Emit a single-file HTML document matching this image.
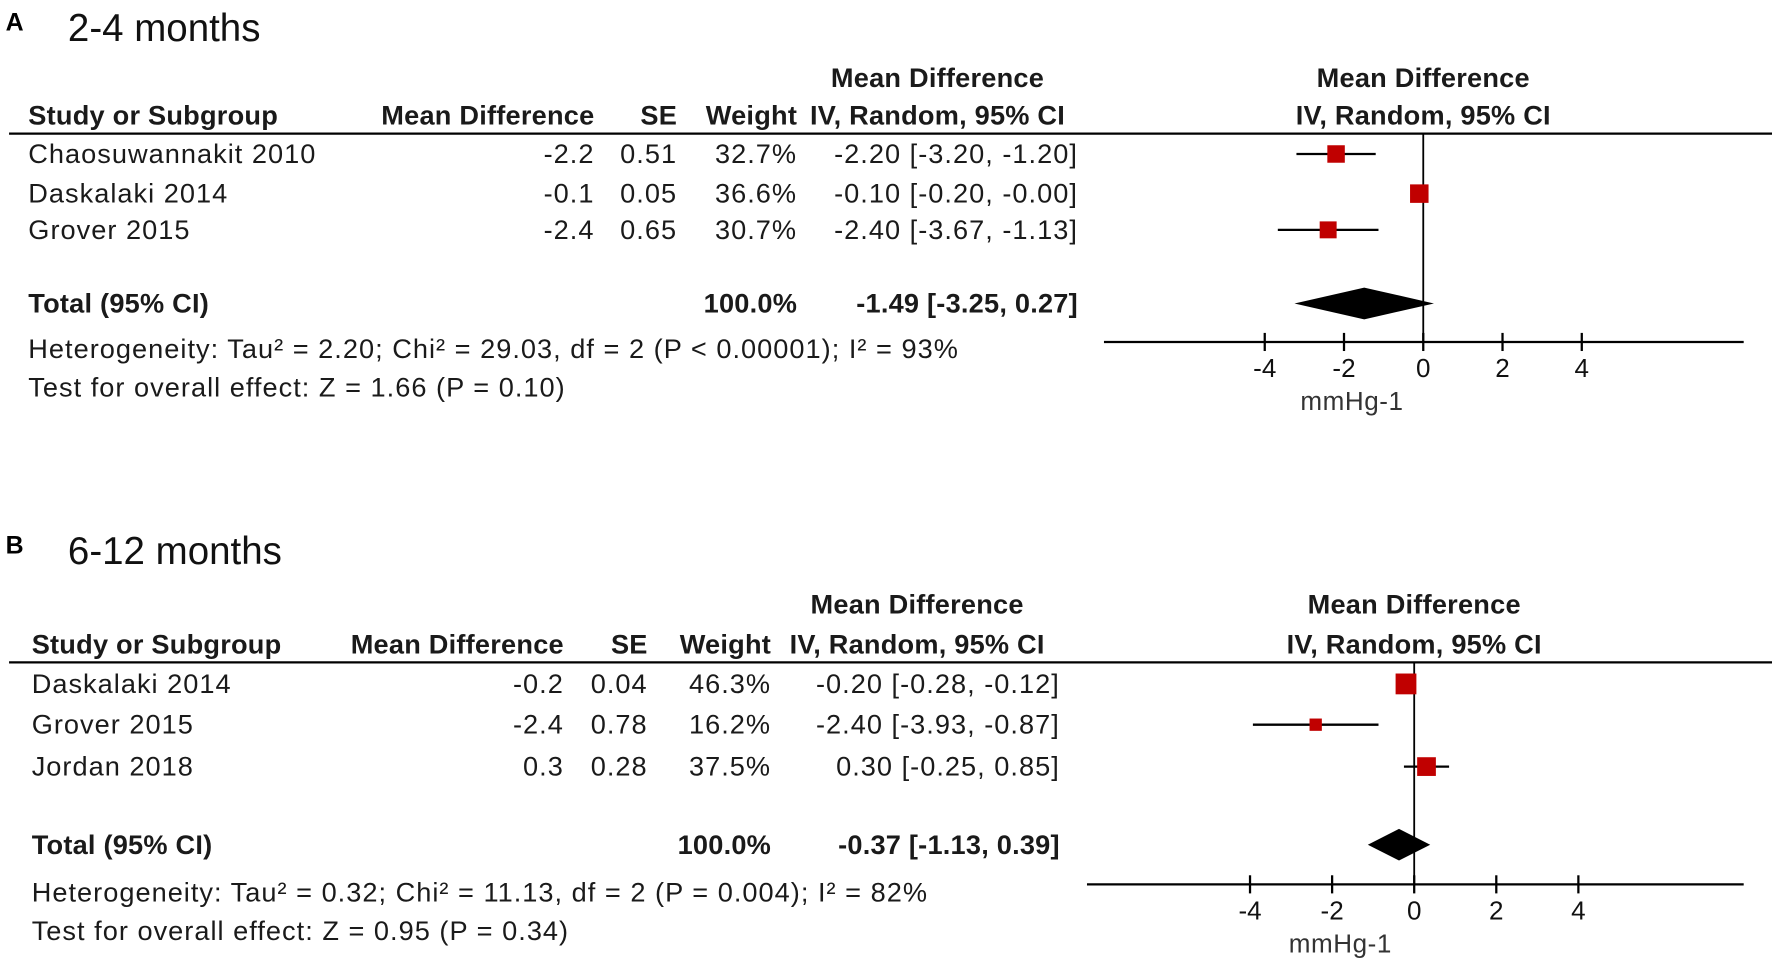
<!DOCTYPE html>
<html><head><meta charset="utf-8"><style>
html,body{margin:0;padding:0;background:#fff;}
svg{display:block;font-family:"Liberation Sans",Arial,sans-serif;}
</style></head><body>
<svg id="fig" width="1772" height="967" viewBox="0 0 1565 854" preserveAspectRatio="none" xmlns="http://www.w3.org/2000/svg"></svg>
<script>
// Panel A data
const studiesA = ["Chaosuwannakit 2010","Daskalaki 2014","Grover 2015"];
const mdA = [-2.2,-0.1,-2.4];
const seA = ["0.51","0.05","0.65"];
const weightA = [32.7,36.6,30.7];
const lowA = [-3.20,-0.20,-3.67];
const highA = [-1.20,-0.00,-1.13];
const totalA = [-1.49,-3.25,0.27];
const hetA = "Heterogeneity: Tau² = 2.20; Chi² = 29.03, df = 2 (P < 0.00001); I² = 93%";
const testA = "Test for overall effect: Z = 1.66 (P = 0.10)";
// Panel B data
const studiesB = ["Daskalaki 2014","Grover 2015","Jordan 2018"];
const mdB = [-0.2,-2.4,0.3];
const seB = ["0.04","0.78","0.28"];
const weightB = [46.3,16.2,37.5];
const lowB = [-0.28,-3.93,-0.25];
const highB = [-0.12,-0.87,0.85];
const totalB = [-0.37,-1.13,0.39];
const hetB = "Heterogeneity: Tau² = 0.32; Chi² = 11.13, df = 2 (P = 0.004); I² = 82%";
const testB = "Test for overall effect: Z = 0.95 (P = 0.34)";
const ticks = [-4,-2,0,2,4];

const svg = document.getElementById('fig');
const NS = "http://www.w3.org/2000/svg";
function mk(tag, attrs, name, txt){
  const e = document.createElementNS(NS, tag);
  for (const k in attrs) e.setAttribute(k, attrs[k]);
  
  
  if (txt !== undefined) e.textContent = txt;
  svg.appendChild(e);
  return e;
}
function txt(x,y,s,name,anchor,bold,size,fill,ls){
  return mk('text',{x:x,y:y,'text-anchor':anchor||'start','font-weight':bold?'bold':'normal','font-size':size||24,
    'letter-spacing':(ls!==undefined?ls:(bold?0.2:0.9)),fill:fill||'#1a1a1a'},name,s);
}
function f2(v){ return (v<0||Object.is(v,-0)?'-':'')+Math.abs(v).toFixed(2); }

function panel(p){
  const L = p.letter.toLowerCase();
  txt(5, p.titleY, p.letter, 'panel-'+L+'-letter','start',true,22,'#000',0);
  mk('text',{x:60,y:p.titleY+9,'font-size':34,fill:'#111'},'panel-'+L+'-title',p.title);
  const c = p.cols;
  txt(c.study, p.h2, 'Study or Subgroup', 'header-study','start',true);
  txt(c.md, p.h2, 'Mean Difference', 'header-mean-difference','end',true);
  txt(c.se, p.h2, 'SE', 'header-se','end',true);
  txt(c.w, p.h2, 'Weight', 'header-weight','end',true);
  txt(c.ciC, p.h1, 'Mean Difference', 'header-ci-title','middle',true);
  txt(c.ciC, p.h2, 'IV, Random, 95% CI', 'header-ci-method','middle',true);
  txt(p.zero, p.h1, 'Mean Difference', 'plot-header-title','middle',true);
  txt(p.zero, p.h2, 'IV, Random, 95% CI', 'plot-header-method','middle',true);
  mk('line',{x1:8,y1:p.line,x2:1565,y2:p.line,stroke:'#000','stroke-width':2},'header-rule');
  const X = v => p.zero + v*p.unit;
  mk('line',{x1:X(0),y1:p.line,x2:X(0),y2:p.axisY,stroke:'#000','stroke-width':1.6},'null-effect-line');
  p.studies.forEach((s,i)=>{
    const y = p.rows[i];
    txt(c.study, y+8, s, 'study-name');
    txt(c.md, y+8, p.md[i].toFixed(1), 'study-mean-difference','end');
    txt(c.se, y+8, p.se[i], 'study-se','end');
    txt(c.w, y+8, p.weight[i].toFixed(1)+'%', 'study-weight','end');
    txt(c.ci, y+8, f2(p.md[i])+' ['+f2(p.low[i])+', '+f2(p.high[i])+']', 'study-ci','end');
    mk('line',{x1:X(p.low[i]),y1:y,x2:X(p.high[i]),y2:y,stroke:'#000','stroke-width':2},'study-ci-whisker');
    const sz = Math.sqrt(p.weight[i])*2.7;
    mk('rect',{x:X(p.md[i])-sz/2,y:y-sz/2,width:sz,height:sz,fill:'#c00000'},'study-point');
  });
  const ty = p.totalY;
  txt(c.study, ty+8, 'Total (95% CI)', 'total-label','start',true);
  txt(c.w, ty+8, '100.0%', 'total-weight','end',true);
  txt(c.ci, ty+8, f2(p.total[0])+' ['+f2(p.total[1])+', '+f2(p.total[2])+']', 'total-ci','end',true);
  const dh = 14;
  mk('polygon',{points:`${X(p.total[1])},${ty} ${X(p.total[0])},${ty-dh} ${X(p.total[2])},${ty} ${X(p.total[0])},${ty+dh}`,fill:'#000'},'total-diamond');
  txt(c.study, p.hetY, p.het, 'heterogeneity-stats');
  txt(c.study, p.hetY+34, p.test, 'overall-effect-test');
  mk('line',{x1:p.axisX1,y1:p.axisY,x2:1540,y2:p.axisY,stroke:'#000','stroke-width':2},'x-axis');
  ticks.forEach(t=>{
    mk('line',{x1:X(t),y1:p.axisY-8,x2:X(t),y2:p.axisY+8,stroke:'#000','stroke-width':2},'x-tick');
    txt(X(t), p.axisY+31, (t<0?'-':'')+Math.abs(t), 'x-tick-label','middle',false,23,'#111',0);
  });
  txt(X(-1.8), p.axisY+60, 'mmHg-1', 'x-axis-title','middle',false,23,'#333',0.5);
}

panel({letter:'A',title:'2-4 months',titleY:27,h1:77,h2:110,line:118,
  cols:{study:25,md:525,se:598,w:704,ci:952,ciC:828},
  zero:1257,unit:35,rows:[136,171,203],totalY:268,hetY:316,axisY:302,axisX1:975,
  studies:studiesA,md:mdA,se:seA,weight:weightA,low:lowA,high:highA,total:totalA,het:hetA,test:testA});
panel({letter:'B',title:'6-12 months',titleY:489,h1:542,h2:577,line:585,
  cols:{study:28,md:498,se:572,w:681,ci:936,ciC:810},
  zero:1249,unit:36.25,rows:[604,640,677],totalY:746,hetY:796,axisY:781,axisX1:960,
  studies:studiesB,md:mdB,se:seB,weight:weightB,low:lowB,high:highB,total:totalB,het:hetB,test:testB});
</script>
</body></html>
